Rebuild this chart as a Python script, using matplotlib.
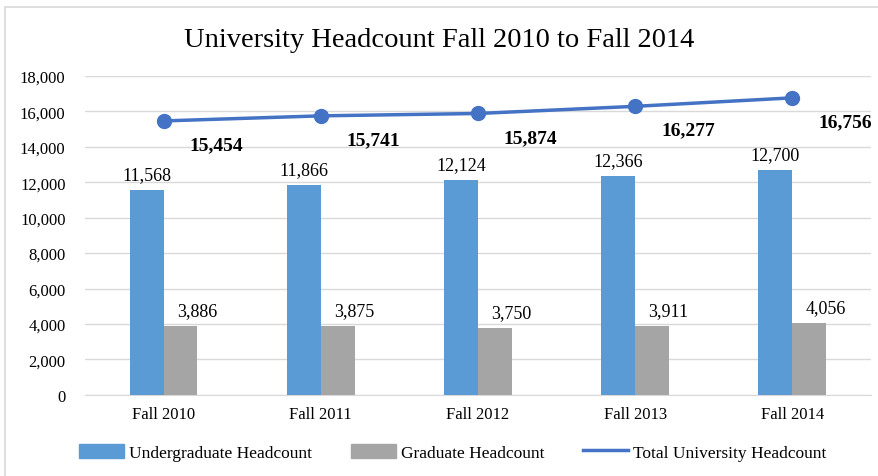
import numpy as np
import matplotlib
matplotlib.use("Agg")
import matplotlib.pyplot as plt
from matplotlib.ticker import FuncFormatter
from matplotlib.patches import Rectangle, Patch
from matplotlib.lines import Line2D

terms = ["Fall 2010", "Fall 2011", "Fall 2012", "Fall 2013", "Fall 2014"]
undergrad = [11568, 11866, 12124, 12366, 12700]
graduate = [3886, 3875, 3750, 3911, 4056]
total = [15454, 15741, 15874, 16277, 16756]

plt.rcParams["font.family"] = ["Liberation Serif", "DejaVu Serif"]

BLUE = "#5B9BD5"
GRAY = "#A5A5A5"
LINE = "#4472C4"

fig = plt.figure(figsize=(8.79, 4.77), dpi=100)
ax = fig.add_axes([0.0967, 0.170, 0.894, 0.669])

# chart frame
fig.patches.append(Rectangle((0.006, -0.05), 1.2, 1.033, transform=fig.transFigure,
                             fill=False, edgecolor="#d9d9d9", linewidth=1.2))

x = np.arange(len(terms))
w = 0.215
ax.bar(x - w / 2, undergrad, w, color=BLUE, zorder=3)
ax.bar(x + w / 2, graduate, w, color=GRAY, zorder=3)
ax.plot(x, total, color=LINE, lw=2.5, marker="o", ms=10, zorder=4)

for i in range(len(terms)):
    ax.annotate(f"{undergrad[i]:,}", (x[i] - w / 2, undergrad[i]), xytext=(0, 5),
                textcoords="offset points", ha="center", va="bottom", fontsize=13)
    ax.annotate(f"{graduate[i]:,}", (x[i] + w / 2, graduate[i]), xytext=(12, 5),
                textcoords="offset points", ha="center", va="bottom", fontsize=13)
    ax.annotate(f"{total[i]:,}", (x[i], total[i]), xytext=(38, -11),
                textcoords="offset points", ha="center", va="top", fontsize=14, fontweight="bold")

ax.set_xlim(-0.5, len(terms) - 0.5)
ax.set_ylim(0, 18000)
ax.set_yticks(range(0, 18001, 2000))
ax.yaxis.set_major_formatter(FuncFormatter(lambda v, p: f"{int(v):,}"))
ax.set_xticks(x)
ax.set_xticklabels(terms)
ax.tick_params(axis="both", length=0, labelsize=12, pad=8)
ax.tick_params(axis="y", pad=14)
ax.grid(axis="y", color="#d9d9d9", lw=1, zorder=0)
for s in ["top", "right", "left"]:
    ax.spines[s].set_visible(False)
ax.spines["bottom"].set_color("#d9d9d9")

fig.text(0.5, 0.915, "University Headcount Fall 2010 to Fall 2014", ha="center", va="center", fontsize=20.5)

handles = [Patch(color=BLUE), Patch(color=GRAY), Line2D([], [], color=LINE, lw=2.5)]
labels = ["Undergraduate Headcount", "Graduate Headcount", "Total University Headcount"]
fig.legend(handles, labels, loc="center", bbox_to_anchor=(0.515, 0.05), ncol=3, frameon=False,
           fontsize=12.5, handlelength=2.6, handleheight=0.9, columnspacing=2.2, handletextpad=0.3)

fig.savefig("out.png", dpi=100)
